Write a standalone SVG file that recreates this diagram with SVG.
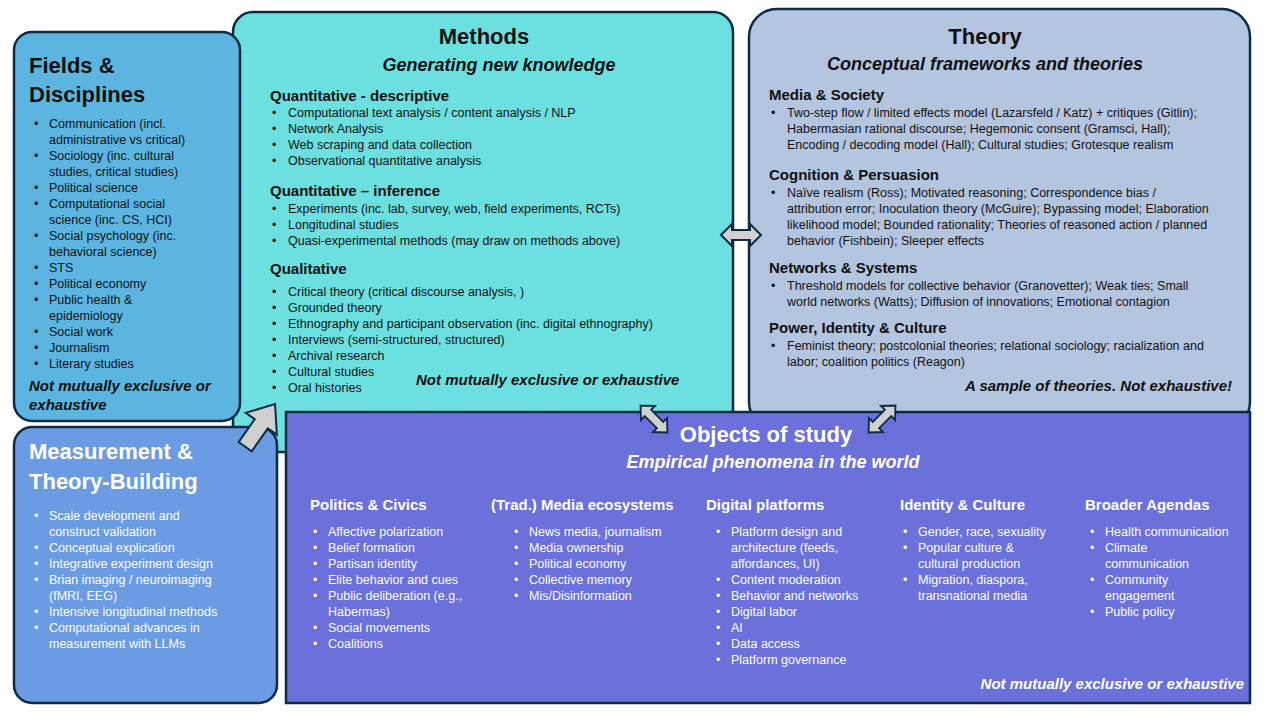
<svg xmlns="http://www.w3.org/2000/svg" width="1280" height="720" viewBox="0 0 1280 720">
<style>
text{font-family:"Liberation Sans",Arial,sans-serif;fill:#111}
.box{stroke:#0D2B45;stroke-width:2.5}
.t{font-size:22px;font-weight:bold}
.st{font-size:18px;font-weight:bold;font-style:italic}
.h{font-size:15px;font-weight:bold}
.b{font-size:12.5px}
.ni{font-size:15px;font-weight:bold;font-style:italic}
.w text,.w{fill:#fff}
.arr{fill:#D0D0D0;stroke:#0D2B45;stroke-width:2}
</style>
<rect width="1280" height="720" fill="#fff"/>
<g id="methods">
<rect class="box" x="233" y="12" width="500" height="440" rx="20" fill="#6CE0E0"/>
<text class="t" x="484" y="44" text-anchor="middle">Methods</text>
<text class="st" x="499" y="71" text-anchor="middle">Generating new knowledge</text>
<text class="h" x="270" y="101">Quantitative - descriptive</text>
<g class="b"><text x="272" y="117">•</text><text x="288" y="117">Computational text analysis / content analysis / NLP</text>
<text x="272" y="133">•</text><text x="288" y="133">Network Analysis</text>
<text x="272" y="149">•</text><text x="288" y="149">Web scraping and data collection</text>
<text x="272" y="165">•</text><text x="288" y="165">Observational quantitative analysis</text></g>
<text class="h" x="270" y="196">Quantitative – inference</text>
<g class="b"><text x="272" y="213">•</text><text x="288" y="213">Experiments (inc. lab, survey, web, field experiments, RCTs)</text>
<text x="272" y="229">•</text><text x="288" y="229">Longitudinal studies</text>
<text x="272" y="245">•</text><text x="288" y="245">Quasi-experimental methods (may draw on methods above)</text></g>
<text class="h" x="270" y="274">Qualitative</text>
<g class="b"><text x="272" y="296">•</text><text x="288" y="296">Critical theory (critical discourse analysis, )</text>
<text x="272" y="312">•</text><text x="288" y="312">Grounded theory</text>
<text x="272" y="328">•</text><text x="288" y="328">Ethnography and participant observation (inc. digital ethnography)</text>
<text x="272" y="344">•</text><text x="288" y="344">Interviews (semi-structured, structured)</text>
<text x="272" y="360">•</text><text x="288" y="360">Archival research</text>
<text x="272" y="376">•</text><text x="288" y="376">Cultural studies</text>
<text x="272" y="392">•</text><text x="288" y="392">Oral histories</text></g>
<text class="ni" x="416" y="385">Not mutually exclusive or exhaustive</text>
</g>
<g id="fields">
<rect class="box" x="14" y="32" width="226" height="389" rx="18" fill="#5BB5E0"/>
<text class="t" x="29" y="73">Fields &amp;</text>
<text class="t" x="29" y="102">Disciplines</text>
<g class="b"><text x="34" y="128">•</text><text x="49" y="128">Communication (incl.</text><text x="49" y="144">administrative vs critical)</text>
<text x="34" y="160">•</text><text x="49" y="160">Sociology (inc. cultural</text><text x="49" y="176">studies, critical studies)</text>
<text x="34" y="192">•</text><text x="49" y="192">Political science</text>
<text x="34" y="208">•</text><text x="49" y="208">Computational social</text><text x="49" y="224">science (inc. CS, HCI)</text>
<text x="34" y="240">•</text><text x="49" y="240">Social psychology (inc.</text><text x="49" y="256">behavioral science)</text>
<text x="34" y="272">•</text><text x="49" y="272">STS</text>
<text x="34" y="288">•</text><text x="49" y="288">Political economy</text>
<text x="34" y="304">•</text><text x="49" y="304">Public health &amp;</text><text x="49" y="320">epidemiology</text>
<text x="34" y="336">•</text><text x="49" y="336">Social work</text>
<text x="34" y="352">•</text><text x="49" y="352">Journalism</text>
<text x="34" y="368">•</text><text x="49" y="368">Literary studies</text></g>
<text class="ni" x="29" y="391">Not mutually exclusive or</text>
<text class="ni" x="29" y="410">exhaustive</text>
</g>
<g id="measurement" class="w">
<rect class="box" x="14" y="427" width="263" height="276" rx="18" fill="#6A9BE3"/>
<text class="t" x="29" y="459">Measurement &amp;</text>
<text class="t" x="29" y="489">Theory-Building</text>
<g class="b"><text x="34" y="520">•</text><text x="49" y="520">Scale development and</text><text x="49" y="536">construct validation</text>
<text x="34" y="552">•</text><text x="49" y="552">Conceptual explication</text>
<text x="34" y="568">•</text><text x="49" y="568">Integrative experiment design</text>
<text x="34" y="584">•</text><text x="49" y="584">Brian imaging / neuroimaging</text><text x="49" y="600">(fMRI, EEG)</text>
<text x="34" y="616">•</text><text x="49" y="616">Intensive longitudinal methods</text>
<text x="34" y="632">•</text><text x="49" y="632">Computational advances in</text><text x="49" y="648">measurement with LLMs</text></g>
</g>
<g id="theory">
<rect class="box" x="749" y="9" width="501" height="421" rx="28" fill="#B4C5E0"/>
<text class="t" x="985" y="44" text-anchor="middle">Theory</text>
<text class="st" x="985" y="70" text-anchor="middle">Conceptual frameworks and theories</text>
<text class="h" x="769" y="100">Media &amp; Society</text>
<g class="b"><text x="771" y="117">•</text><text x="787" y="117">Two-step flow / limited effects model (Lazarsfeld / Katz) + critiques (Gitlin);</text>
<text x="787" y="133">Habermasian rational discourse; Hegemonic consent (Gramsci, Hall);</text>
<text x="787" y="149">Encoding / decoding model (Hall); Cultural studies; Grotesque realism</text></g>
<text class="h" x="769" y="180">Cognition &amp; Persuasion</text>
<g class="b"><text x="771" y="197">•</text><text x="787" y="197">Naïve realism (Ross); Motivated reasoning; Correspondence bias /</text>
<text x="787" y="213">attribution error; Inoculation theory (McGuire); Bypassing model; Elaboration</text>
<text x="787" y="229">likelihood model; Bounded rationality; Theories of reasoned action / planned</text>
<text x="787" y="245">behavior (Fishbein); Sleeper effects</text></g>
<text class="h" x="769" y="273">Networks &amp; Systems</text>
<g class="b"><text x="771" y="290">•</text><text x="787" y="290">Threshold models for collective behavior (Granovetter); Weak ties; Small</text>
<text x="787" y="306">world networks (Watts); Diffusion of innovations; Emotional contagion</text></g>
<text class="h" x="769" y="333">Power, Identity &amp; Culture</text>
<g class="b"><text x="771" y="350">•</text><text x="787" y="350">Feminist theory; postcolonial theories; relational sociology; racialization and</text>
<text x="787" y="366">labor; coalition politics (Reagon)</text></g>
<text class="ni" x="1232" y="391" text-anchor="end">A sample of theories. Not exhaustive!</text>
</g>
<g id="objects" class="w">
<rect class="box" x="286" y="412" width="964" height="291" fill="#6B70DB"/>
<text class="t" x="766" y="442" text-anchor="middle">Objects of study</text>
<text class="st" x="773" y="468" text-anchor="middle">Empirical phenomena in the world</text>
<g class="h"><text x="310" y="510">Politics &amp; Civics</text><text x="491" y="510">(Trad.) Media ecosystems</text><text x="706" y="510">Digital platforms</text><text x="900" y="510">Identity &amp; Culture</text><text x="1085" y="510">Broader Agendas</text></g>
<g class="b">
<text x="313" y="536">•</text><text x="328" y="536">Affective polarization</text>
<text x="313" y="552">•</text><text x="328" y="552">Belief formation</text>
<text x="313" y="568">•</text><text x="328" y="568">Partisan identity</text>
<text x="313" y="584">•</text><text x="328" y="584">Elite behavior and cues</text>
<text x="313" y="600">•</text><text x="328" y="600">Public deliberation (e.g.,</text><text x="328" y="616">Habermas)</text>
<text x="313" y="632">•</text><text x="328" y="632">Social movements</text>
<text x="313" y="648">•</text><text x="328" y="648">Coalitions</text>
<text x="514" y="536">•</text><text x="529" y="536">News media, journalism</text>
<text x="514" y="552">•</text><text x="529" y="552">Media ownership</text>
<text x="514" y="568">•</text><text x="529" y="568">Political economy</text>
<text x="514" y="584">•</text><text x="529" y="584">Collective memory</text>
<text x="514" y="600">•</text><text x="529" y="600">Mis/Disinformation</text>
<text x="716" y="536">•</text><text x="731" y="536">Platform design and</text><text x="731" y="552">architecture (feeds,</text><text x="731" y="568">affordances, UI)</text>
<text x="716" y="584">•</text><text x="731" y="584">Content moderation</text>
<text x="716" y="600">•</text><text x="731" y="600">Behavior and networks</text>
<text x="716" y="616">•</text><text x="731" y="616">Digital labor</text>
<text x="716" y="632">•</text><text x="731" y="632">AI</text>
<text x="716" y="648">•</text><text x="731" y="648">Data access</text>
<text x="716" y="664">•</text><text x="731" y="664">Platform governance</text>
<text x="903" y="536">•</text><text x="918" y="536">Gender, race, sexuality</text>
<text x="903" y="552">•</text><text x="918" y="552">Popular culture &amp;</text><text x="918" y="568">cultural production</text>
<text x="903" y="584">•</text><text x="918" y="584">Migration, diaspora,</text><text x="918" y="600">transnational media</text>
<text x="1090" y="536">•</text><text x="1105" y="536">Health communication</text>
<text x="1090" y="552">•</text><text x="1105" y="552">Climate</text><text x="1105" y="568">communication</text>
<text x="1090" y="584">•</text><text x="1105" y="584">Community</text><text x="1105" y="600">engagement</text>
<text x="1090" y="616">•</text><text x="1105" y="616">Public policy</text>
</g>
<text class="ni" x="1244" y="689" text-anchor="end">Not mutually exclusive or exhaustive</text>
</g>
<g id="connectors">
<polygon class="arr" transform="translate(259,427) rotate(35)" points="0,-28 19,-4 8,-4 8,24 -8,24 -8,-4 -19,-4"/>
<polygon class="arr" transform="translate(741,235)" points="-20,0 -9,-11 -9,-5 9,-5 9,-11 20,0 9,11 9,5 -9,5 -9,11"/>
<polygon class="arr" transform="translate(654,419) rotate(45) scale(0.95,0.9)" points="-20,0 -9,-11 -9,-5 9,-5 9,-11 20,0 9,11 9,5 -9,5 -9,11"/>
<polygon class="arr" transform="translate(882,419) rotate(-45) scale(0.95,0.9)" points="-20,0 -9,-11 -9,-5 9,-5 9,-11 20,0 9,11 9,5 -9,5 -9,11"/>
</g>
</svg>
